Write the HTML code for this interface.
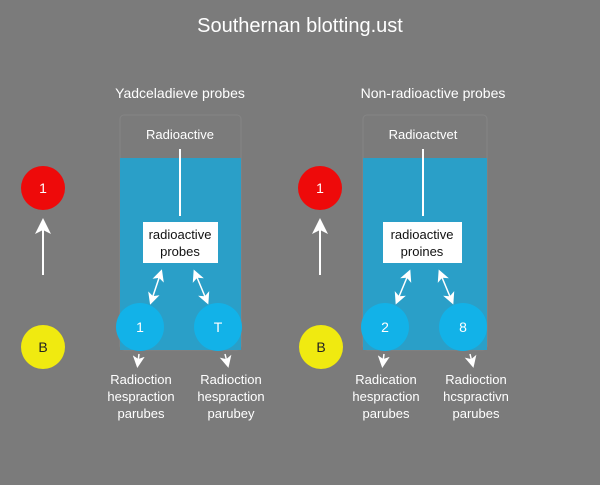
<!DOCTYPE html>
<html><head><style>
body{margin:0;width:600px;height:480px;background:#7b7b7b;overflow:hidden;font-family:"Liberation Sans",sans-serif}
</style></head><body>
<svg width="600" height="480" xmlns="http://www.w3.org/2000/svg" font-family="Liberation Sans, sans-serif">
<defs><marker id="a" markerWidth="8" markerHeight="8" refX="4" refY="4" orient="auto-start-reverse"><path d="M0,0 L8,4 L0,8 L2,4z" fill="#fff"/></marker></defs>
<text x="300" y="32" text-anchor="middle" font-size="20" fill="#fff">Southernan blotting.ust</text>
<text x="180" y="98" text-anchor="middle" font-size="14" fill="#fff">Yadceladieve probes</text>
<text x="433" y="98" text-anchor="middle" font-size="14" fill="#fff">Non-radioactive probes</text>
<g>
<rect x="120" y="115" width="121" height="235" fill="none" stroke="#858585" rx="4"/>
<rect x="120" y="158" width="121" height="192" fill="#2a9fc8"/>
<text x="180" y="139" text-anchor="middle" font-size="13" fill="#fff">Radioactive</text>
<line x1="180" y1="149" x2="180" y2="216" stroke="#fff" stroke-width="2"/>
<rect x="143" y="222" width="75" height="41" fill="#fff"/>
<text x="180" y="239" text-anchor="middle" font-size="13" fill="#111">radioactive</text>
<text x="180" y="256" text-anchor="middle" font-size="13" fill="#111">probes</text>
<line x1="160" y1="275" x2="152" y2="299" stroke="#fff" stroke-width="1.5" marker-start="url(#a)" marker-end="url(#a)"/>
<line x1="196" y1="275" x2="206" y2="299" stroke="#fff" stroke-width="1.5" marker-start="url(#a)" marker-end="url(#a)"/>
<circle cx="140" cy="327" r="24" fill="#12b2e8"/><text x="140" y="332" text-anchor="middle" font-size="14" fill="#fff">1</text>
<circle cx="218" cy="327" r="24" fill="#12b2e8"/><text x="218" y="332" text-anchor="middle" font-size="14" fill="#fff">T</text>
</g>
<g>
<rect x="363" y="115" width="124" height="235" fill="none" stroke="#858585" rx="4"/>
<rect x="363" y="158" width="124" height="192" fill="#2a9fc8"/>
<text x="423" y="139" text-anchor="middle" font-size="13" fill="#fff">Radioactvet</text>
<line x1="423" y1="149" x2="423" y2="216" stroke="#fff" stroke-width="2"/>
<rect x="383" y="222" width="79" height="41" fill="#fff"/>
<text x="422" y="239" text-anchor="middle" font-size="13" fill="#111">radioactive</text>
<text x="422" y="256" text-anchor="middle" font-size="13" fill="#111">proines</text>
<line x1="408" y1="275" x2="398" y2="299" stroke="#fff" stroke-width="1.5" marker-start="url(#a)" marker-end="url(#a)"/>
<line x1="441" y1="275" x2="451" y2="299" stroke="#fff" stroke-width="1.5" marker-start="url(#a)" marker-end="url(#a)"/>
<circle cx="385" cy="327" r="24" fill="#12b2e8"/><text x="385" y="332" text-anchor="middle" font-size="14" fill="#fff">2</text>
<circle cx="463" cy="327" r="24" fill="#12b2e8"/><text x="463" y="332" text-anchor="middle" font-size="14" fill="#fff">8</text>
</g>
<circle cx="43" cy="188" r="22" fill="#ee0a0a"/><text x="43" y="193" text-anchor="middle" font-size="14" fill="#fff">1</text>
<circle cx="43" cy="347" r="22" fill="#f0ea10"/><text x="43" y="352" text-anchor="middle" font-size="14" fill="#222">B</text>
<line x1="43" y1="275" x2="43" y2="226" stroke="#fff" stroke-width="2" marker-end="url(#a)"/>
<circle cx="320" cy="188" r="22" fill="#ee0a0a"/><text x="320" y="193" text-anchor="middle" font-size="14" fill="#fff">1</text>
<circle cx="321" cy="347" r="22" fill="#f0ea10"/><text x="321" y="352" text-anchor="middle" font-size="14" fill="#222">B</text>
<line x1="320" y1="275" x2="320" y2="226" stroke="#fff" stroke-width="2" marker-end="url(#a)"/>
<g stroke="#fff" stroke-width="1.5">
<line x1="139" y1="354" x2="138" y2="362" marker-end="url(#a)"/>
<line x1="225" y1="354" x2="227" y2="362" marker-end="url(#a)"/>
<line x1="384" y1="354" x2="383" y2="362" marker-end="url(#a)"/>
<line x1="470" y1="354" x2="472" y2="362" marker-end="url(#a)"/>
</g>
<g font-size="13" fill="#fff" text-anchor="middle">
<text x="141" y="384">Radioction</text><text x="141" y="401">hespraction</text><text x="141" y="418">parubes</text>
<text x="231" y="384">Radioction</text><text x="231" y="401">hespraction</text><text x="231" y="418">parubey</text>
<text x="386" y="384">Radication</text><text x="386" y="401">hespraction</text><text x="386" y="418">parubes</text>
<text x="476" y="384">Radioction</text><text x="476" y="401">hcspractivn</text><text x="476" y="418">parubes</text>
</g>
</svg>
</body></html>
